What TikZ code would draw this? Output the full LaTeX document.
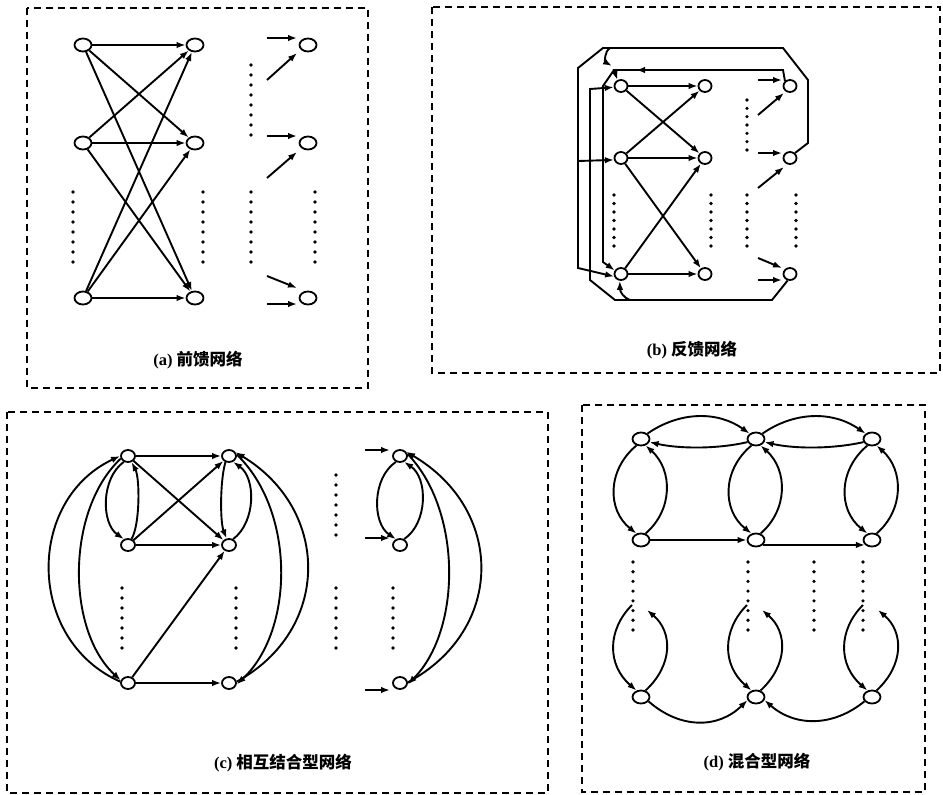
\documentclass[tikz,border=0pt]{standalone}
\usepackage{fontspec}
\setmainfont{Liberation Serif}
\newfontfamily\cjk{Noto Sans CJK SC}
\usetikzlibrary{shapes.geometric,arrows.meta}
\newcommand\dotcol[4]{\foreach \k in {0,...,#4}{\fill ({#1},{#2+(#3-#2)*\k/#4}) circle (1.8pt);}}
\tikzset{
  panel/.style={draw, dash pattern=on 7pt off 5pt, line width=1.7pt},
  nbig/.style={draw, ellipse, inner sep=0pt, minimum width=17pt, minimum height=13pt, line width=1.8pt},
  nsmall/.style={nbig, minimum width=13pt, minimum height=12pt},
  nmid/.style={nbig, minimum width=14pt, minimum height=12pt},
  arr/.style={line width=1.9pt, -{Latex[length=9pt,width=6.5pt]}},
  captxt/.style={font=\fontsize{16.5}{18}\selectfont\bfseries, inner sep=0pt}
}
\begin{document}
\begin{tikzpicture}[x=1pt,y=-1pt]
\useasboundingbox (0,0) rectangle (943,795);

% ---------------- (a) ----------------
\draw[panel] (27,8) rectangle (368,388);
\foreach \n/\x/\y in {a11/83/45, a12/195/45, a13/308/45, a21/83/143, a22/195/143, a23/308/143, a31/83/298, a32/195/298, a33/308/298}
  \node[nbig] (\n) at (\x,\y) {};
\foreach \i in {1,2,3}{\foreach \j in {1,2,3}{\draw[arr] (a\i1) -- (a\j2);}}
\draw[arr] (267,38) -- (297,38);
\draw[arr] (267,80) -- (297,53);
\draw[arr] (267,136) -- (297,136);
\draw[arr] (267,178) -- (297,152);
\draw[arr] (267,276) -- (297,288);
\draw[arr] (267,304) -- (297,304);
\dotcol{73}{192}{262}{7}
\dotcol{203}{192}{262}{7}
\dotcol{251}{65}{135}{7}
\dotcol{251}{192}{262}{7}
\dotcol{315}{192}{262}{7}
\node[captxt] (capa) at (198,360) {(a) {\cjk 前馈网络}};

% ---------------- (b) ----------------
\draw[panel] (432,7) rectangle (940,373);
\foreach \n/\x/\y in {b11/621/86, b12/705/86, b13/790/86, b21/621/158, b22/705/158, b23/790/158, b31/621/274, b32/705/274, b33/790/274}
  \node[nsmall] (\n) at (\x,\y) {};
\draw[arr] (b11) -- (b12);
\draw[arr] (b11) -- (b22);
\draw[arr] (b21) -- (b12);
\draw[arr] (b21) -- (b22);
\draw[arr] (b21) -- (b32);
\draw[arr] (b31) -- (b22);
\draw[arr] (b31) -- (b32);
\draw[arr] (758,80) -- (782,80);
\draw[arr] (758,115) -- (784,93);
\draw[arr] (758,153) -- (782,153);
\draw[arr] (758,188) -- (784,167);
\draw[arr] (758,258) -- (782,268);
\draw[arr] (758,280) -- (782,280);
\dotcol{614}{195}{246}{6}
\dotcol{711}{195}{246}{6}
\dotcol{747}{100}{150}{6}
\dotcol{747}{195}{246}{6}
\dotcol{796}{195}{246}{6}
% feedback paths
\draw[arr] (b23.45) -- (808,143) -- (808,80) -- (783,48) -- (603,48) -- (578,68) -- (578,268) -- (b31.200);
\draw[arr] (578,161) -- (b21.195);
\draw[arr] (610,48) .. controls (604,52) and (605,62) .. (612,66);
\draw[arr] (b13.135) -- (783,70) -- (614,70) -- (b11.120);
\draw[arr] (660,70) -- (636,70);
\draw[arr] (614,70) -- (603,86) -- (603,262) -- (b31.150);
\draw[arr] (b33.-110) -- (772,300) -- (615,300) -- (590,280) -- (590,89) -- (b11.190);
\draw[arr] (630,300) .. controls (624,298) and (620,292) .. (b31.-100);
\node[captxt] (capb) at (692,350) {(b) {\cjk 反馈网络}};

% ---------------- (c) ----------------
\draw[panel] (7,412) rectangle (548,793);
\foreach \n/\x/\y in {c11/128/456, c12/229/456, c13/400/456, c21/128/545, c22/229/545, c23/400/545, c31/128/683, c32/229/683, c33/400/683}
  \node[nmid] (\n) at (\x,\y) {};
\draw[arr] (c11) -- (c12);
\draw[arr] (c11) -- (c22);
\draw[arr] (c21) -- (c12);
\draw[arr] (c21) -- (c22);
\draw[arr] (c31) -- (c22);
\draw[arr] (c31) -- (c32);
\draw[arr] (c11.235) .. controls (101,478) and (101,523) .. (c21.125);
\draw[arr] (c21.60) .. controls (140,525) and (140,478) .. (c11.300);
\draw[arr] (c12.240) .. controls (220,480) and (220,522) .. (c22.110);
\draw[arr] (c22.55) .. controls (256,522) and (256,478) .. (c12.305);
\draw[arr] (c31.170) .. controls (26,640) and (26,500) .. (c11.180);
\draw[arr] (c11.200) .. controls (66,510) and (66,630) .. (c31.160);
\draw[arr] (c12.10) .. controls (295,510) and (295,630) .. (c32.-10);
\draw[arr] (c32.10) .. controls (331,630) and (331,510) .. (c12.30);
\draw[arr] (c13.235) .. controls (372,478) and (372,523) .. (c23.125);
\draw[arr] (c23.55) .. controls (428,523) and (428,478) .. (c13.305);
\draw[arr] (c13.15) .. controls (462,510) and (462,630) .. (c33.-10);
\draw[arr] (c33.5) .. controls (505,630) and (505,510) .. (c13.35);
\draw[arr] (365,450) -- (390,450);
\draw[arr] (365,538) -- (390,538);
\draw[arr] (365,690) -- (390,690);
\dotcol{122}{588}{648}{6}
\dotcol{236}{588}{648}{6}
\dotcol{336}{475}{535}{6}
\dotcol{336}{588}{648}{6}
\dotcol{393}{588}{648}{6}
\node[captxt] (capc) at (283,763) {(c) {\cjk 相互结合型网络}};

% ---------------- (d) ----------------
\draw[panel] (582,405) rectangle (925,792);
\foreach \n/\x/\y in {d11/641/439, d12/756/439, d13/872/439, d21/641/540, d22/756/540, d23/872/540, d31/641/697, d32/756/697, d33/872/697}
  \node[nbig] (\n) at (\x,\y) {};
\draw[arr] (d11.40) .. controls (680,411) and (718,411) .. (d12.140);
\draw[arr] (d12.200) .. controls (718,449) and (680,449) .. (d11.340);
\draw[arr] (d12.40) .. controls (795,411) and (833,411) .. (d13.140);
\draw[arr] (d13.200) .. controls (833,449) and (795,449) .. (d12.340);
\foreach \c/\x in {1/641, 2/756, 3/872}{
  \draw[arr] (d1\c.235) .. controls ({\x-34},470) and ({\x-34},510) .. (d2\c.125);
  \draw[arr] (d2\c.55) .. controls ({\x+32},510) and ({\x+32},470) .. (d1\c.305);
  \coordinate (p\c) at ({\x-9},605);
  \coordinate (q\c) at ({\x+6},610);
  \draw[arr] (p\c) .. controls ({\x-34},630) and ({\x-34},665) .. (d3\c.125);
  \draw[arr] (d3\c.55) .. controls ({\x+32},665) and ({\x+32},632) .. (q\c);
}
\draw[arr] (d21) -- (d22);
\draw[arr] (d22.-35) -- (d23.-145);
\draw[arr] (d31.-30) .. controls (680,729) and (718,729) .. (d32.200);
\draw[arr] (d33.210) .. controls (833,727) and (795,727) .. (d32.-20);
\dotcol{633}{562}{630}{7}
\dotcol{748}{562}{630}{7}
\dotcol{814}{562}{630}{7}
\dotcol{863}{562}{630}{7}
\node[captxt] (capd) at (757,762) {(d) {\cjk 混合型网络}};
\end{tikzpicture}
\end{document}
